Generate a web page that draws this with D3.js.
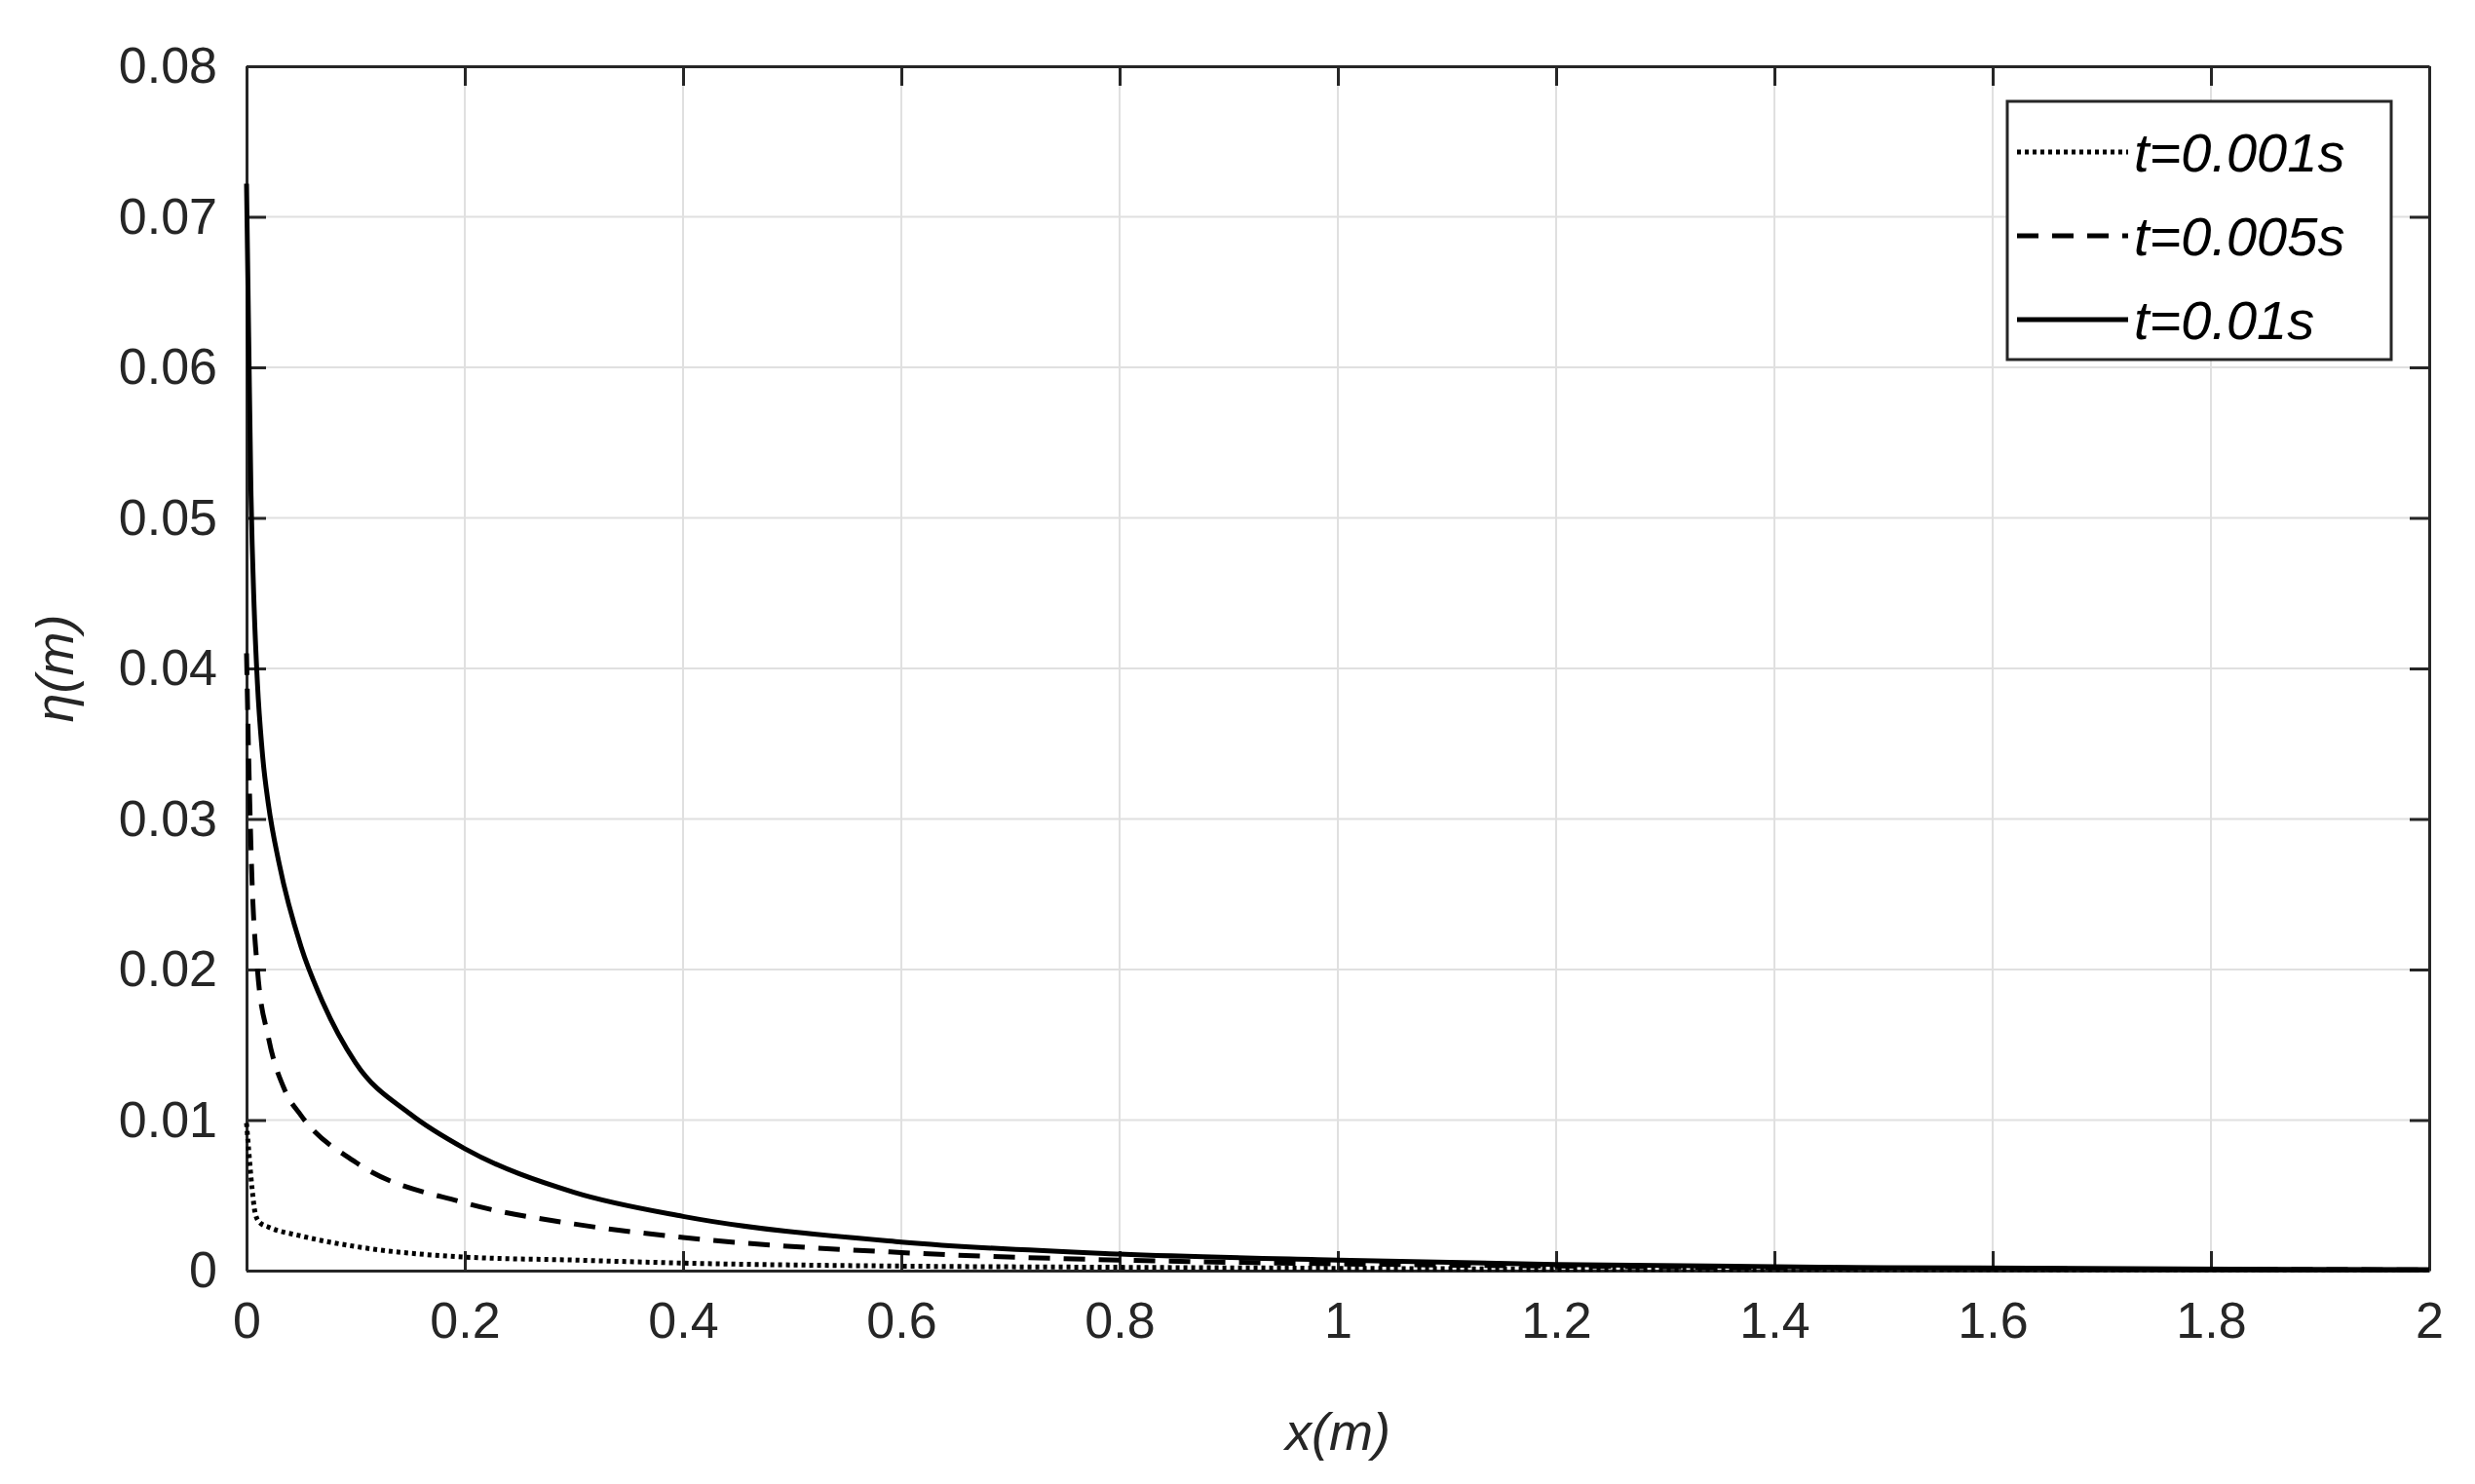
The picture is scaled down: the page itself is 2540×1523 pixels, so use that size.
<!DOCTYPE html><html><head><meta charset="utf-8">
<script src="https://cdn.jsdelivr.net/npm/d3@7"></script>
<style>body{margin:0;background:#fff}</style></head><body>
<svg id="c" width="2540" height="1523"></svg>
<script>
const xTicks=[0,0.2,0.4,0.6,0.8,1,1.2,1.4,1.6,1.8,2];
const yTicks=[0,0.01,0.02,0.03,0.04,0.05,0.06,0.07,0.08];
const seriesNames=["t=0.001s","t=0.005s","t=0.01s"];
const xs001=[0,0.002,0.005,0.008,0.012,0.02,0.05,0.1,0.2,0.3,0.4,0.6,0.8,1,1.2,1.5,2];
const ys001=[0.0098,0.008,0.0055,0.0038,0.0032,0.0029,0.0023,0.0016,0.0009,0.0007,0.0005,0.0003,0.00022,0.00015,0.0001,0.00007,0.00003];
const xs005=[0,0.002,0.005,0.01,0.02,0.035,0.05,0.1,0.2,0.3,0.4,0.6,0.8,1,1.2,1.4,1.7,2];
const ys005=[0.041,0.034,0.026,0.02,0.0155,0.012,0.0103,0.0072,0.0045,0.0031,0.0022,0.0012,0.0007,0.00045,0.0003,0.0002,0.0001,0.00005];
const xs01=[0,0.002,0.004,0.007,0.01,0.015,0.02,0.03,0.05,0.07,0.1,0.15,0.2,0.3,0.4,0.6,0.8,1,1.2,1.5,2];
const ys01=[0.0722,0.062,0.052,0.044,0.039,0.034,0.031,0.027,0.0215,0.0178,0.0138,0.0104,0.0081,0.0052,0.0036,0.0019,0.0011,0.0007,0.0004,0.0002,0.00006];
const series=[{x:xs001,y:ys001,dash:"4,4"},{x:xs005,y:ys005,dash:"22,14"},{x:xs01,y:ys01,dash:null}];
const L=253,T=68,R=2493,B=1304;
const svg=d3.select("#c");
const x=d3.scaleLinear().domain([0,2]).range([L,R]);
const y=d3.scaleLinear().domain([0,0.08]).range([B,T]);
const font="'Liberation Sans',Arial,sans-serif";
// grid
svg.append("g").selectAll("line").data(xTicks).join("line").attr("x1",d=>x(d)).attr("x2",d=>x(d)).attr("y1",T).attr("y2",B).attr("stroke","#e0e0e0").attr("stroke-width",2);
svg.append("g").selectAll("line").data(yTicks).join("line").attr("y1",d=>y(d)).attr("y2",d=>y(d)).attr("x1",L).attr("x2",R).attr("stroke","#e0e0e0").attr("stroke-width",2);
// axes
const ax=svg.append("g").attr("transform",`translate(0,${B})`).call(d3.axisBottom(x).tickValues(xTicks).tickFormat(d3.format("")).tickSizeInner(-20).tickSizeOuter(0).tickPadding(32));
const ay=svg.append("g").attr("transform",`translate(${L},0)`).call(d3.axisLeft(y).tickValues(yTicks).tickFormat(d=>d===0?"0":d3.format(".2f")(d)).tickSizeInner(-20).tickSizeOuter(0).tickPadding(30));
svg.append("g").attr("transform",`translate(0,${T})`).call(d3.axisTop(x).tickValues(xTicks).tickFormat("").tickSizeInner(-20).tickSizeOuter(0));
svg.append("g").attr("transform",`translate(${R},0)`).call(d3.axisRight(y).tickValues(yTicks).tickFormat("").tickSizeInner(-20).tickSizeOuter(0));
svg.selectAll(".domain").attr("stroke","#262626").attr("stroke-width",3);
svg.selectAll(".tick line").attr("stroke","#262626").attr("stroke-width",3);
svg.selectAll(".tick text").attr("font-family",font).attr("font-size",52).attr("fill","#262626");
// lines
const line=d3.line().curve(d3.curveMonotoneX);
series.forEach(s=>{
 svg.append("path").attr("d",line(s.x.map((v,i)=>[x(v),y(s.y[i])]))).attr("fill","none").attr("stroke","#000").attr("stroke-width",5).attr("stroke-dasharray",s.dash);
});
// labels
svg.append("text").attr("x",(L+R)/2).attr("y",1488).attr("text-anchor","middle").attr("font-family",font).attr("font-style","italic").attr("font-size",54).attr("fill","#262626").text("x(m)");
svg.append("text").attr("transform",`translate(75,${(T+B)/2}) rotate(-90)`).attr("text-anchor","middle").attr("font-family",font).attr("font-style","italic").attr("font-size",54).attr("fill","#262626").text("η(m)");
// legend
const lg=svg.append("g");
lg.append("rect").attr("x",2060).attr("y",104).attr("width",394).attr("height",265).attr("fill","#fff").attr("stroke","#262626").attr("stroke-width",3);
series.forEach((s,i)=>{
 const yy=156+i*86;
 lg.append("line").attr("x1",2070).attr("x2",2184).attr("y1",yy).attr("y2",yy).attr("stroke","#000").attr("stroke-width",5).attr("stroke-dasharray",s.dash);
 lg.append("text").attr("x",2190).attr("y",yy+20).attr("font-family",font).attr("font-style","italic").attr("font-size",56).attr("fill","#000").text(seriesNames[i]);
});
</script></body></html>
